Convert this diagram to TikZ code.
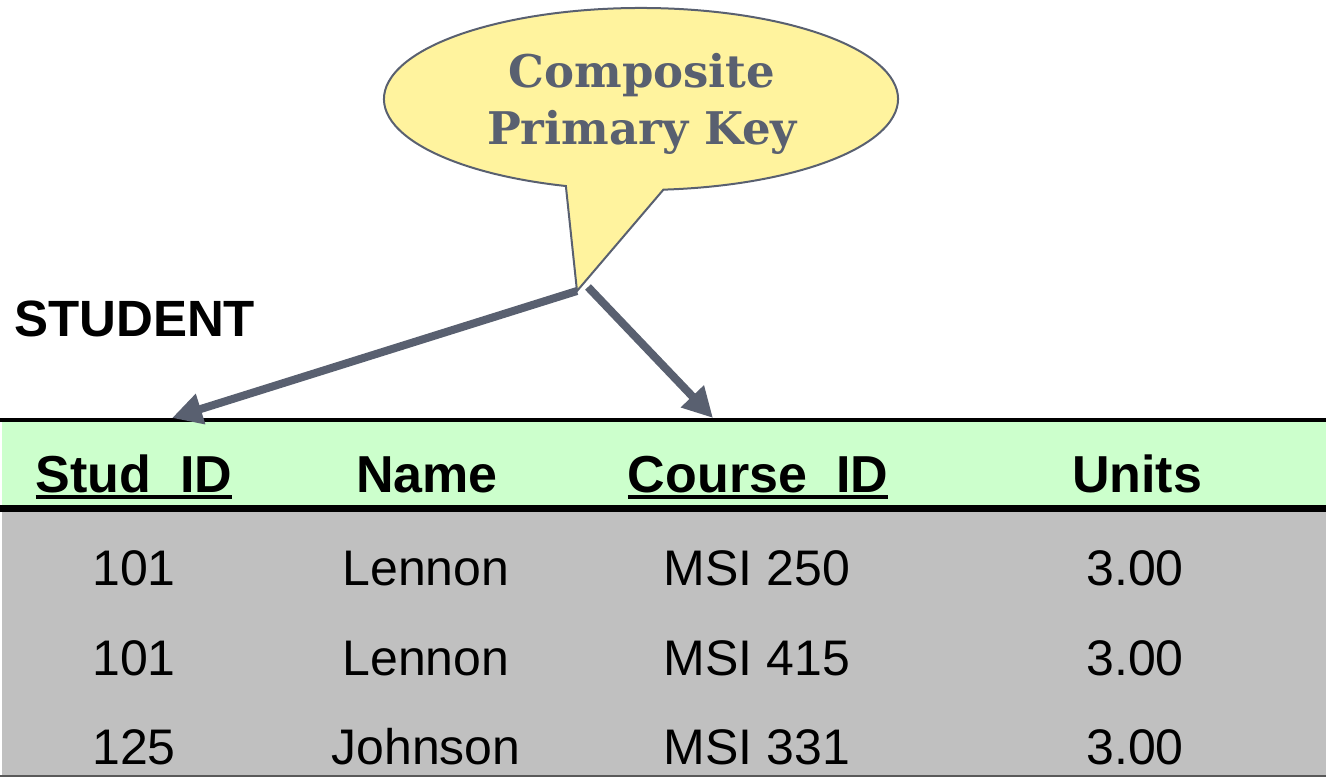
\documentclass[tikz,border=0pt]{standalone}
\usepackage{fontspec}
\setmainfont{Liberation Sans}
\newfontfamily\calloutfont{DejaVu Serif}
\usetikzlibrary{arrows.meta,calc}
\definecolor{callfill}{HTML}{FFF39E}
\definecolor{calledge}{HTML}{596070}
\definecolor{headgreen}{HTML}{CCFFCC}
\definecolor{bodygray}{HTML}{C0C0C0}
\tikzset{
  cell/.style={inner sep=0pt, anchor=base, font=\fontsize{50}{58}\selectfont},
  headcell/.style={inner sep=0pt, anchor=base, font=\fontsize{52}{60}\selectfont\bfseries},
  keytext/.style={inner sep=0pt, anchor=base, text=calledge, font=\calloutfont\bfseries\fontsize{45}{52}\selectfont},
  keyline/.style={line width=4pt},
  pointer/.style={draw=calledge, line width=8pt, -{Triangle[length=30pt,width=30pt]}},
}
\begin{document}
\begin{tikzpicture}[x=1pt,y=-1pt]
\useasboundingbox (0,0) rectangle (1326,778);
% table background
\fill[headgreen] (2,420) rectangle (1326,508);
\fill[bodygray] (2,508) rectangle (1326,776);
\draw[line width=4pt] (0,420) -- (1326,420);
\draw[line width=7pt] (0,508) -- (1326,508);
\draw[line width=2pt, draw=black!65] (0,776) -- (1326,776);
% title
\node[headcell, anchor=base west, font=\fontsize{51}{60}\selectfont\bfseries] (title) at (14,336) {STUDENT};
% header
\node[headcell] (h1) at (134,492) {Stud\_ID};
\node[headcell] (h2) at (427,492) {Name};
\node[headcell] (h3) at (758,492) {Course\_ID};
\node[headcell] (h4) at (1137,492) {Units};
\draw[keyline] ($(h1.base west)+(0,5)$) -- ($(h1.base east)+(0,5)$);
\draw[keyline] ($(h3.base west)+(0,5)$) -- ($(h3.base east)+(0,5)$);
% rows
\node[cell] (r1a) at (134,585) {101};
\node[cell] (r1b) at (426,585) {Lennon};
\node[cell] (r1c) at (757,585) {MSI 250};
\node[cell] (r1d) at (1135,585) {3.00};
\node[cell] (r2a) at (134,675) {101};
\node[cell] (r2b) at (426,675) {Lennon};
\node[cell] (r2c) at (757,675) {MSI 415};
\node[cell] (r2d) at (1135,675) {3.00};
\node[cell] (r3a) at (134,764) {125};
\node[cell] (r3b) at (426,764) {Johnson};
\node[cell] (r3c) at (757,764) {MSI 331};
\node[cell] (r3d) at (1135,764) {3.00};
% callout
\coordinate (cc) at (641,99);
\coordinate (tip) at (577,291);
\filldraw[fill=callfill, draw=calledge, line width=2pt, line join=miter]
  ($(cc)+(107:257 and 91)$) arc[start angle=107, end angle=445, x radius=257, y radius=91]
  -- (tip) -- cycle;
\node[keytext] (k1) at (642,88) {Composite};
\node[keytext] (k2) at (642,145) {Primary Key};
% pointers
\coordinate (tipb) at (588,287);
\coordinate (p1) at (172,418);
\coordinate (p2) at (713,418);
\draw[pointer] (tip) -- (p1);
\draw[pointer] (tipb) -- (p2);
\end{tikzpicture}
\end{document}
